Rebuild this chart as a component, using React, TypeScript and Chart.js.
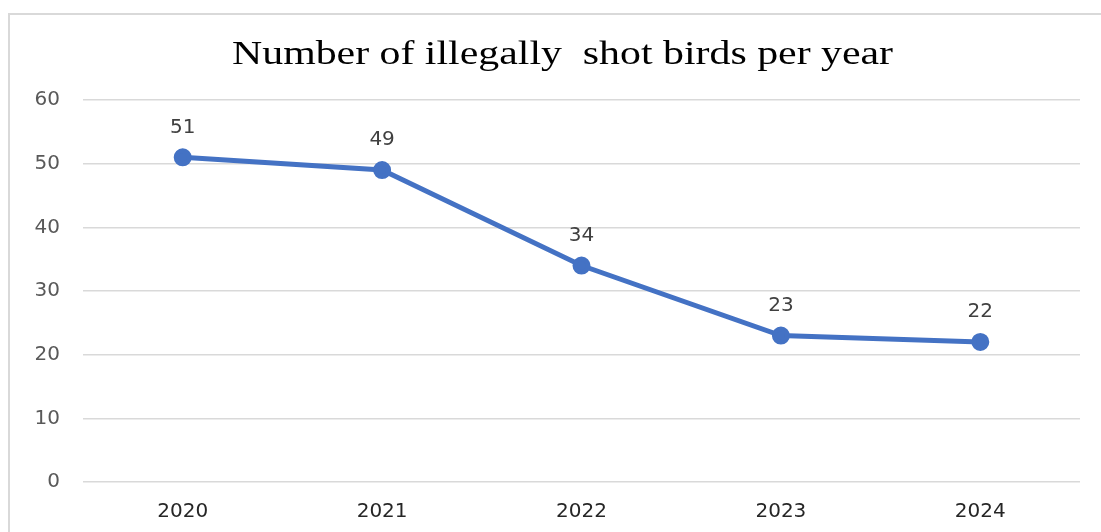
import React, { useEffect, useRef } from "react";
import { Chart, registerables } from "chart.js";

Chart.register(...registerables);

const titleText = "Number of illegally  shot birds per year";
const years = ["2020", "2021", "2022", "2023", "2024"];
const shotBirds = [51, 49, 34, 23, 22];
const yTicks = [0, 10, 20, 30, 40, 50, 60];

const LINE_COLOR = "#4472C4";
const Y_GRAY = "#595959";
const X_DARK = "#262626";
const LABEL_GRAY = "#404040";
const GRID_GRAY = "#d9d9d9";

const titlePlugin = {
  id: "customTitle",
  afterDraw(chart: any) {
    const ctx = chart.ctx;
    ctx.save();
    ctx.font = "33px 'Liberation Serif'";
    ctx.fillStyle = "#000000";
    ctx.textBaseline = "alphabetic";
    ctx.textAlign = "left";
    const w = ctx.measureText(titleText).width;
    const target = 661;
    const sx = target / w;
    const cx = 552.5;
    ctx.translate(cx - target / 2, 49);
    ctx.scale(sx, 1);
    ctx.fillText(titleText, 0, 0);
    ctx.restore();
  },
};

const labelPlugin = {
  id: "pointLabels",
  afterDatasetsDraw(chart: any) {
    const ctx = chart.ctx;
    const meta = chart.getDatasetMeta(0);
    ctx.save();
    ctx.font = "20px 'DejaVu Sans'";
    ctx.fillStyle = LABEL_GRAY;
    ctx.textAlign = "center";
    ctx.textBaseline = "middle";
    meta.data.forEach((pt: any, i: number) => {
      ctx.fillText(String(shotBirds[i]), pt.x, pt.y - 30);
    });
    ctx.restore();
  },
};

export default function App() {
  const ref = useRef<HTMLCanvasElement>(null);
  useEffect(() => {
    if (!ref.current) return;
    const chart = new Chart(ref.current, {
      type: "line",
      data: {
        labels: years,
        datasets: [
          {
            data: shotBirds,
            borderColor: LINE_COLOR,
            backgroundColor: LINE_COLOR,
            borderWidth: 5,
            pointRadius: 6.5,
            pointBackgroundColor: LINE_COLOR,
            pointBorderColor: LINE_COLOR,
            tension: 0,
          },
        ],
      },
      options: {
        animation: false,
        responsive: false,
        layout: { padding: { top: 85, right: 21, left: 0, bottom: 0 } },
        plugins: {
          legend: { display: false },
          title: { display: false },
          tooltip: { enabled: false },
        },
        scales: {
          x: {
            offset: true,
            grid: { display: false, drawTicks: false },
            border: { display: false },
            ticks: {
              color: X_DARK,
              font: { family: "'DejaVu Sans'", size: 20 },
              padding: 18,
            },
            afterFit(scale: any) {
              scale.height = 50;
            },
          },
          y: {
            min: 0,
            max: 60,
            afterBuildTicks(scale: any) {
              scale.ticks = yTicks.map((v) => ({ value: v }));
            },
            grid: { color: GRID_GRAY, lineWidth: 1.5, drawTicks: false },
            border: { display: false },
            ticks: {
              color: Y_GRAY,
              font: { family: "'DejaVu Sans'", size: 20 },
              padding: 23,
            },
            afterFit(scale: any) {
              scale.width = 73;
            },
          },
        },
      },
      plugins: [titlePlugin, labelPlugin],
    });
    return () => chart.destroy();
  }, []);

  return (
    <div
      style={{
        position: "fixed",
        left: 8,
        top: 13,
        borderTop: `2px solid ${GRID_GRAY}`,
        borderLeft: `2px solid ${GRID_GRAY}`,
        width: 1091,
        height: 517,
        overflow: "hidden",
        background: "#ffffff",
      }}
    >
      <canvas ref={ref} width={1091} height={517} style={{ display: "block" }} />
    </div>
  );
}
